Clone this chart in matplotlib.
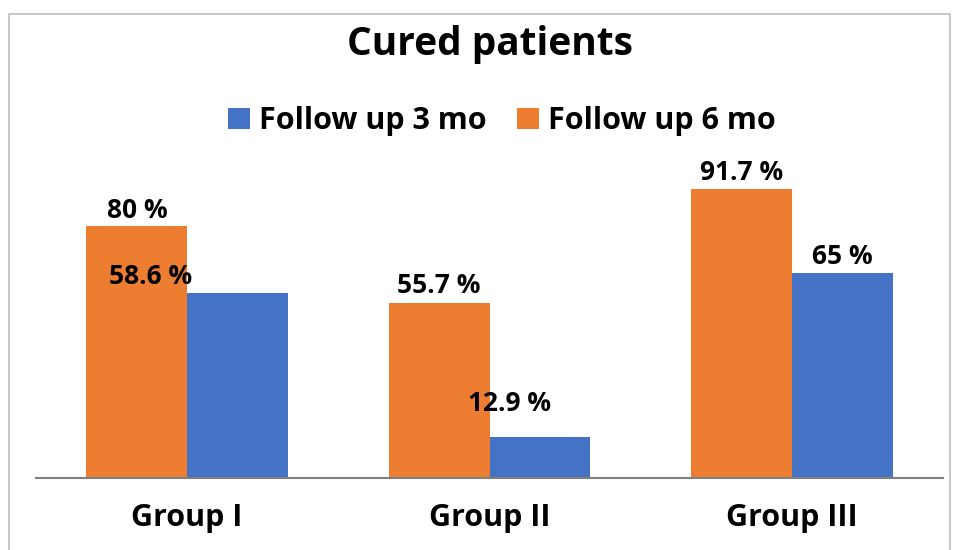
import matplotlib.pyplot as plt
from matplotlib.patches import Rectangle

groups = ['Group I', 'Group II', 'Group III']
mo6 = [80, 55.7, 91.7]
mo3 = [58.6, 12.9, 65]
labels6 = ['80 %', '55.7 %', '91.7 %']
labels3 = ['58.6 %', '12.9 %', '65 %']

orange = '#ED7D31'
blue = '#4472C4'

plt.rcParams['font.family'] = ['Open Sans', 'DejaVu Sans']
plt.rcParams['font.weight'] = 'bold'

fig = plt.figure(figsize=(9.55, 5.5), dpi=100)
ax = fig.add_axes([36 / 955, 72 / 550, 907 / 955, 315 / 550])

w = 0.333
x = range(len(groups))
b6 = ax.bar([i - w / 2 for i in x], mo6, w, color=orange, label='Follow up 6 mo')
b3 = ax.bar([i + w / 2 for i in x], mo3, w, color=blue, label='Follow up 3 mo')

ax.set_xlim(-0.5, 2.5)
ax.set_ylim(0, 100)

# label offsets in pixels (some labels are shifted in the original)
off6 = [(0, 15), (0, 17), (0, 17)]
off3 = [(-87, 17), (-30, 34), (0, 17)]
for i in x:
    ax.annotate(labels6[i], (i - w / 2, mo6[i]), xytext=off6[i], textcoords='offset pixels',
                ha='center', va='center', fontsize=19, fontweight='bold')
    ax.annotate(labels3[i], (i + w / 2, mo3[i]), xytext=off3[i], textcoords='offset pixels',
                ha='center', va='center', fontsize=19, fontweight='bold')

for s in ['top', 'right', 'left']:
    ax.spines[s].set_visible(False)
ax.spines['bottom'].set_color('#7f7f7f')
ax.spines['bottom'].set_linewidth(1.5)
ax.set_yticks([])
ax.set_xticks(list(x))
ax.set_xticklabels(groups, fontsize=22, fontweight='bold')
ax.tick_params(axis='x', length=0, pad=18)

fig.text(490 / 955, 1 - 45 / 550, 'Cured patients', ha='center', va='center',
         fontsize=28, fontweight='bold')
fig.legend(handles=[b3, b6], loc='center', bbox_to_anchor=(502 / 955, 1 - 121 / 550),
           ncol=2, frameon=False, handlelength=0.7, handleheight=0.7,
           handletextpad=0.3, columnspacing=1.0, prop={'weight': 'bold', 'size': 22})

fig.patches.append(Rectangle((9 / 955, -0.05), 941 / 955, 1.05 - 14 / 550,
                             transform=fig.transFigure, fill=False,
                             edgecolor='#bfbfbf', linewidth=1.2))

fig.savefig('out.png', dpi=100)
